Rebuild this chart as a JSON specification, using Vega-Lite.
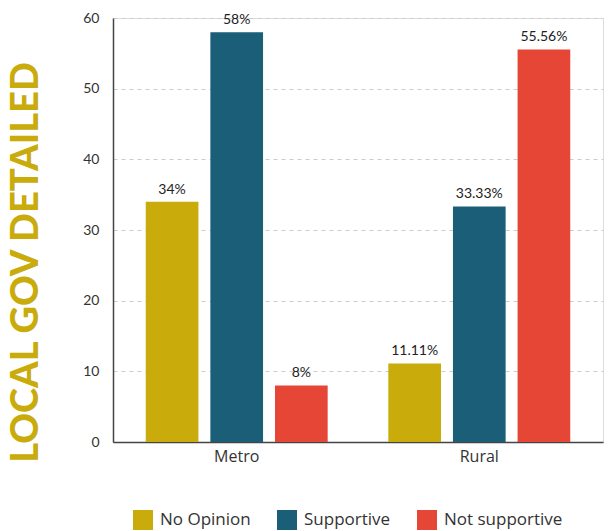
{
  "$schema": "https://vega.github.io/schema/vega-lite/v6.json",
  "autosize": "none",
  "width": 490,
  "height": 424,
  "padding": {"left": 113, "top": 18, "right": 8, "bottom": 89},
  "background": "white",
  "data": {
    "values": [
      {"area": "Metro", "opinion": "No Opinion", "value": 34, "label": "34%"},
      {"area": "Metro", "opinion": "Supportive", "value": 58, "label": "58%"},
      {"area": "Metro", "opinion": "Not supportive", "value": 8, "label": "8%"},
      {"area": "Rural", "opinion": "No Opinion", "value": 11.11, "label": "11.11%"},
      {"area": "Rural", "opinion": "Supportive", "value": 33.33, "label": "33.33%"},
      {"area": "Rural", "opinion": "Not supportive", "value": 55.56, "label": "55.56%"}
    ]
  },
  "encoding": {
    "x": {
      "field": "area", "type": "nominal",
      "scale": {"paddingInner": 0.25, "paddingOuter": 0.135},
      "axis": {"title": null, "labelAngle": 0, "labelFont": "Open Sans", "labelFontSize": 16, "labelColor": "#333333", "labelPadding": 6, "domainColor": "#444444", "domainWidth": 1.5, "ticks": false}
    },
    "xOffset": {
      "field": "opinion", "type": "nominal",
      "sort": ["No Opinion", "Supportive", "Not supportive"],
      "scale": {"paddingInner": 0.185, "paddingOuter": 0}
    },
    "y": {
      "field": "value", "type": "quantitative",
      "scale": {"domain": [0, 60], "nice": false},
      "axis": {
        "values": [0, 10, 20, 30, 40, 50, 60],
        "title": "LOCAL GOV DETAILED",
        "titleFont": "Lato", "titleFontSize": 38, "titleFontWeight": 900, "titleColor": "#C9AB0B",
        "titleAnchor": "middle", "titleAngle": -90, "titleX": -68, "titleY": 244,
        "labelFont": "Lato", "labelFontSize": 14, "labelColor": "#333333", "labelPadding": 14,
        "ticks": false, "domainColor": "#444444", "domainWidth": 1.5,
        "grid": true, "gridColor": "#cccccc", "gridDash": [4, 4], "gridWidth": 1
      }
    }
  },
  "layer": [
    {
      "mark": {"type": "bar"},
      "encoding": {
        "color": {
          "field": "opinion", "type": "nominal",
          "sort": ["No Opinion", "Supportive", "Not supportive"],
          "scale": {"domain": ["No Opinion", "Supportive", "Not supportive"], "range": ["#C9AB0B", "#1B5E77", "#E54636"]},
          "legend": {
            "title": null, "orient": "none", "direction": "horizontal",
            "legendX": 20, "legendY": 492,
            "symbolType": "square", "symbolSize": 400, "symbolStrokeWidth": 0, "symbolOpacity": 1,
            "labelFont": "Open Sans", "labelFontSize": 17, "labelColor": "#333333",
            "columnPadding": 26, "labelOffset": 7
          }
        }
      }
    },
    {
      "mark": {"type": "text", "baseline": "bottom", "dy": -5, "font": "Lato", "fontSize": 14, "color": "#222222"},
      "encoding": {"text": {"field": "label"}}
    }
  ]
}
